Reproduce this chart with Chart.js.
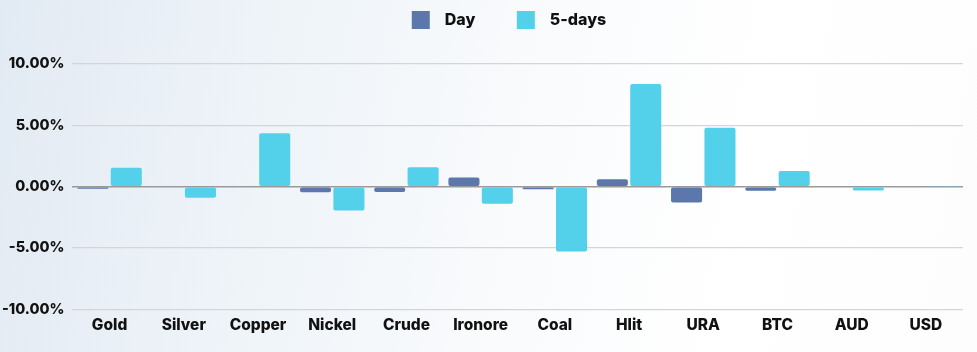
<!DOCTYPE html>
<html>
<head>
<meta charset="utf-8">
<script src="https://cdn.jsdelivr.net/npm/chart.js@4/dist/chart.umd.min.js"></script>
<style>
  html, body { margin: 0; padding: 0; }
  body {
    width: 977px; height: 352px; overflow: hidden;
    background: linear-gradient(100deg, #e2eaf3 0%, #edf3f8 25%, #f8fafc 50%, #ffffff 75%, #fdfdfe 100%);
  }
  #wrap { position: relative; width: 977px; height: 352px; }
</style>
</head>
<body>
<div id="wrap"><canvas id="c"></canvas></div>
<script>
const categories = ["Gold", "Silver", "Copper", "Nickel", "Crude", "Ironore", "Coal", "Hlit", "URA", "BTC", "AUD", "USD"];
const dayValues = [-0.17, 0, 0, -0.46, -0.43, 0.74, -0.2, 0.6, -1.28, -0.33, 0, 0];
const fiveDayValues = [1.55, -0.9, 4.36, -1.93, 1.58, -1.39, -5.28, 8.37, 4.8, 1.28, -0.3, 0.04];
const seriesNames = ["Day", "5-days"];
const yTicks = [-10, -5, 0, 5, 10];

const FONT = "Inter, 'DejaVu Sans', sans-serif";
const WEIGHT = "800";

const legendSpacer = {
  id: "legendSpacer",
  beforeInit(chart) {
    const lg = chart.legend;
    const origFit = lg.fit;
    lg.fit = function () { origFit.call(this); this.height += 25; };
  }
};

function draw() {
  new Chart(document.getElementById("c"), {
    type: "bar",
    plugins: [legendSpacer],
    data: {
      labels: categories,
      datasets: [
        { label: seriesNames[0], data: dayValues, backgroundColor: "#5b77ac", borderRadius: 2, borderSkipped: false },
        { label: seriesNames[1], data: fiveDayValues, backgroundColor: "#53d0ea", borderRadius: 2, borderSkipped: false }
      ]
    },
    options: {
      responsive: true,
      maintainAspectRatio: false,
      animation: false,
      datasets: { bar: { categoryPercentage: 0.9, barPercentage: 0.93 } },
      layout: { padding: { left: -6, right: 14, top: 1, bottom: 14 } },
      plugins: {
        legend: {
          position: "top",
          fullSize: false,
          labels: {
            boxWidth: 18, boxHeight: 18, padding: 10,
            color: "#111",
            font: { family: FONT, size: 16, weight: WEIGHT },
            generateLabels(chart) {
              const items = Chart.defaults.plugins.legend.labels.generateLabels(chart);
              items[0].text = "  " + items[0].text + "         ";
              items[1].text = "  " + items[1].text + "     ";
              items.forEach(it => { it.lineWidth = 0; });
              return items;
            }
          }
        },
        tooltip: { enabled: false }
      },
      scales: {
        x: {
          grid: { display: false, drawTicks: true, tickLength: 4 },
          border: { display: false },
          ticks: { color: "#111", padding: 3, font: { family: FONT, size: 15.5, weight: WEIGHT } }
        },
        y: {
          min: -10, max: 10,
          afterBuildTicks(axis) { axis.ticks = yTicks.map(v => ({ value: v })); },
          border: { display: false },
          grid: {
            drawTicks: false,
            color: ctx => ctx.tick && ctx.tick.value === 0 ? "#9a9a9a" : "#d2d6db",
            lineWidth: ctx => ctx.tick && ctx.tick.value === 0 ? 1.5 : 1.2
          },
          ticks: {
            color: "#111", padding: 8,
            font: { family: FONT, size: 14.5, weight: WEIGHT },
            callback: v => v.toFixed(2) + "%"
          }
        }
      }
    }
  });
}

let started = false;
function go() { if (!started) { started = true; draw(); } }
Promise.all([
  document.fonts.load(WEIGHT + " 14px Inter"),
  document.fonts.load(WEIGHT + " 16px Inter")
]).then(go, go);
setTimeout(go, 1500);
</script>
</body>
</html>
